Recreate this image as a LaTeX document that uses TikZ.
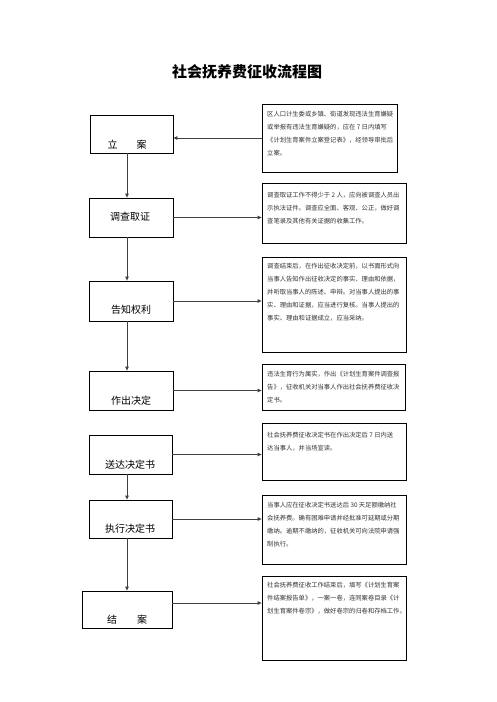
\documentclass[tikz,border=0pt]{standalone}
\usepackage{fontspec}
\setmainfont{Noto Sans CJK SC}
\usetikzlibrary{arrows.meta}
\begin{document}
\begin{tikzpicture}[x=1pt,y=-1pt,
  box/.style={draw=black,line width=0.8pt,inner sep=0pt},
  lab/.style={inner sep=0pt,font=\fontsize{10}{12}\selectfont},
  desc/.style={inner sep=0pt,anchor=north west,align=left,text=black!80,font=\fontsize{6.3}{13}\selectfont},
  conn/.style={draw=black!75,line width=0.8pt,-{Triangle[length=4pt,width=3.5pt]}}]
\useasboundingbox (0,0) rectangle (496,702);
\fill[white] (0,0) rectangle (496,702);
\node[inner sep=0pt,font=\fontsize{15}{18}\selectfont\bfseries] (title) at (247,72) {社会抚养费征收流程图};
% left boxes
\node[box,minimum width=83pt,minimum height=38pt] (b1) at (131.5,134) {};
\node[box,minimum width=84pt,minimum height=39pt] (b2) at (131,217.5) {};
\node[box,minimum width=84pt,minimum height=40pt] (b3) at (131,301) {};
\node[box,minimum width=84pt,minimum height=39pt] (b4) at (131,390.5) {};
\node[box,minimum width=83pt,minimum height=39pt] (b5) at (130.5,454.5) {};
\node[box,minimum width=83pt,minimum height=38pt] (b6) at (130.5,519) {};
\node[box,minimum width=90pt,minimum height=37pt] (b7) at (127,609.5) {};
\node[lab] (t1) at (127,145) {立\hspace{19pt}案};
\node[lab] (t2) at (130,217) {调查取证};
\node[lab] (t3) at (131,310) {告知权利};
\node[lab] (t4) at (131,401) {作出决定};
\node[lab] (t5) at (130,465) {送达决定书};
\node[lab] (t6) at (130,529) {执行决定书};
\node[lab] (t7) at (127,620) {结\hspace{20pt}案};
% right boxes
\node[box,minimum width=135pt,minimum height=68pt] (r1) at (329.5,138) {};
\node[box,minimum width=144pt,minimum height=60pt] (r2) at (334,213) {};
\node[box,minimum width=144pt,minimum height=95pt] (r3) at (334,304.5) {};
\node[box,minimum width=143pt,minimum height=46pt] (r4) at (333.5,387) {};
\node[box,minimum width=144pt,minimum height=57pt] (r5) at (334,451.5) {};
\node[box,minimum width=144pt,minimum height=69pt] (r6) at (334,529.5) {};
\node[box,minimum width=144pt,minimum height=84pt] (r7) at (334,618) {};
\node[desc] (d1) at (267,110.8) {区人口计生委或乡镇、街道发现违法生育嫌疑\\或举报有违法生育嫌疑的，应在 7 日内填写\\《计划生育案件立案登记表》，经领导审批后\\立案。};
\node[desc] (d2) at (267,191.8) {调查取证工作不得少于 2 人，应向被调查人员出\\示执法证件。调查应全面、客观、公正，做好调\\查笔录及其他有关证据的收集工作。};
\node[desc] (d3) at (267,262.8) {调查结束后，在作出征收决定前，以书面形式向\\当事人告知作出征收决定的事实、理由和依据，\\并听取当事人的陈述、申辩。对当事人提出的事\\实、理由和证据，应当进行复核。当事人提出的\\事实、理由和证据成立，应当采纳。};
\node[desc] (d4) at (267,370.8) {违法生育行为属实，作出《计划生育案件调查报\\告》，征收机关对当事人作出社会抚养费征收决\\定书。};
\node[desc] (d5) at (267,431.8) {社会抚养费征收决定书在作出决定后 7 日内送\\达当事人，并当场宣读。};
\node[desc] (d6) at (267,501.8) {当事人应在征收决定书送达后 30 天足额缴纳社\\会抚养费。确有困难申请并经批准可延期或分期\\缴纳。逾期不缴纳的，征收机关可向法院申请强\\制执行。};
\node[desc] (d7) at (267,581.8) {社会抚养费征收工作结束后，填写《计划生育案\\件结案报告单》，一案一卷，连同案卷目录《计\\划生育案件卷宗》，做好卷宗的归卷和存档工作。};
% connectors
\coordinate (ax) at (127,0);
\draw[conn] (b1.south -| ax) -- (b2.north -| ax);
\draw[conn] (b2.south -| ax) -- (b3.north -| ax);
\draw[conn] (b3.south -| ax) -- (b4.north -| ax);
\draw[conn] (b5.south -| ax) -- (b6.north -| ax);
\draw[conn] (b6.south -| ax) -- (b7.north -| ax);
\draw[conn] (r1.west) -- (r1.west -| b1.east);
\draw[conn] (b2.east) -- (b2.east -| r2.west);
\draw[conn] (b3.east) -- (b3.east -| r3.west);
\draw[conn] (b4.east) -- (b4.east -| r4.west);
\draw[conn] (b5.east) -- (b5.east -| r5.west);
\draw[conn] (b6.east) -- (b6.east -| r6.west);
\draw[conn] ([yshift=6.5pt]b7.east) -- ([yshift=6.5pt]b7.east -| r7.west);
\end{tikzpicture}
\end{document}
